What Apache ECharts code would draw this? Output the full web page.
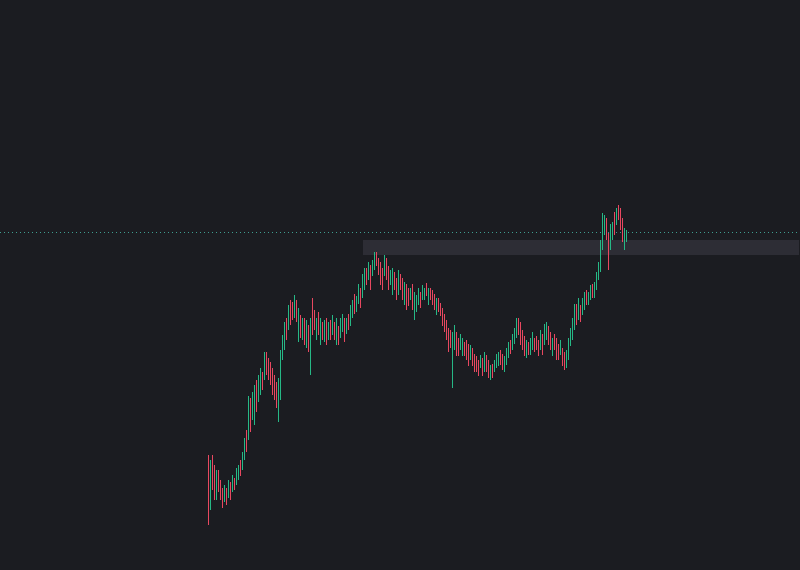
<!DOCTYPE html>
<html>
<head>
<meta charset="utf-8">
<script src="https://cdn.jsdelivr.net/npm/echarts@6/dist/echarts.min.js"></script>
<style>
html,body{margin:0;padding:0;background:#1b1c21;}
#chart{width:800px;height:570px;}
</style>
</head>
<body>
<div id="chart"></div>
<script>
// Candles: [open, close, low, high]
const candles = [
[105,58,45,115],[68,102,60,110],[110,88,80,115],[100,78,70,105],[76,95,70,100],
[96,82,78,100],[88,74,70,90],[80,66,62,82],[70,82,68,85],[80,68,65,82],
[75,87,72,90],[86,74,70,88],[80,92,78,95],[90,83,80,92],[87,99,85,102],
[92,103,90,105],[108,97,94,110],[102,115,100,118],[113,128,110,132],[136,122,118,140],
[135,168,130,174],[168,145,138,172],[154,174,150,178],[155,180,145,185],[186,164,158,190],
[172,190,168,195],[180,198,175,202],[196,184,180,198],[194,214,190,218],[215,200,195,218],
[210,194,190,212],[205,190,185,208],[198,180,175,202],[192,174,170,195],[185,166,162,188],
[168,188,148,192],[180,215,170,220],[214,230,210,235],[225,244,220,248],[250,235,230,252],
[244,260,240,265],[266,250,245,270],[265,254,250,268],[256,270,252,275],[266,252,248,270],
[234,256,228,262],[252,236,232,255],[234,248,230,252],[248,230,225,252],[228,246,222,250],
[242,224,218,245],[228,246,195,252],[266,242,235,272],[258,244,240,260],[236,248,230,252],
[255,240,235,258],[232,248,225,252],[246,234,230,248],[234,246,228,250],[248,230,225,252],
[234,245,230,248],[247,234,230,250],[238,252,235,255],[245,234,230,248],[230,248,225,252],
[240,228,225,244],[236,249,232,252],[241,253,238,256],[249,232,228,252],[239,250,236,252],
[253,243,240,256],[247,262,244,265],[255,267,252,270],[273,259,256,276],[261,271,258,274],
[269,283,266,286],[279,265,262,282],[276,292,272,296],[283,299,280,302],[299,288,285,302],
[293,305,290,308],[302,284,280,305],[296,307,294,310],[303,315,300,318],[315,306,304,318],
[310,298,295,312],[305,289,285,308],[299,284,280,302],[296,311,294,315],[309,293,290,312],
[301,284,280,304],[287,297,285,300],[280,298,275,302],[296,283,280,298],[290,273,270,292],
[278,296,275,300],[294,283,280,296],[289,273,270,292],[268,285,265,288],[283,264,260,286],
[280,267,264,282],[271,280,270,282],[283,264,260,286],[254,274,250,278],[261,272,258,275],
[268,279,265,282],[276,265,262,278],[272,282,270,285],[272,280,270,282],[285,276,274,287],
[268,279,265,282],[280,272,270,282],[278,267,265,280],[274,263,260,276],[258,269,255,272],
[270,260,258,272],[265,256,254,267],[260,247,244,262],[254,241,238,256],[247,233,230,250],
[239,221,218,242],[238,225,222,240],[222,235,182,238],[224,242,220,245],[235,217,214,238],
[230,217,214,232],[222,233,220,236],[217,229,214,232],[226,217,214,228],[227,213,210,230],
[223,207,204,226],[212,222,210,225],[219,207,204,222],[213,201,198,216],[212,200,198,214],
[208,197,194,210],[204,213,202,215],[210,197,194,212],[200,215,198,218],[213,200,198,215],
[207,195,192,210],[192,203,190,205],[204,194,192,206],[200,208,198,210],[204,213,202,216],
[206,216,204,218],[218,207,205,220],[214,202,200,216],[200,211,198,214],[207,219,205,222],
[214,226,212,228],[228,218,216,230],[222,234,220,236],[228,239,226,242],[234,249,232,252],
[250,238,235,252],[245,228,225,248],[237,223,220,240],[231,217,214,234],[214,227,212,230],
[226,217,215,228],[217,229,215,232],[222,235,220,238],[230,220,218,232],[232,222,220,234],
[228,216,214,230],[222,237,220,240],[233,218,215,236],[228,243,225,246],[232,245,230,248],
[241,228,225,244],[235,223,220,238],[216,229,214,232],[233,223,220,236],[229,213,210,232],
[224,213,210,226],[217,227,215,230],[219,207,204,222],[215,204,200,218],[205,217,202,220],
[213,229,210,232],[227,239,224,242],[233,249,230,252],[244,262,240,266],[262,249,245,266],
[253,268,250,272],[262,251,248,265],[257,269,255,272],[262,275,260,278],[277,268,265,280],
[267,276,265,278],[272,282,270,285],[284,274,272,286],[274,285,272,288],[282,295,280,298],
[292,305,290,308],[302,326,298,330],[324,352,320,357],[337,352,335,355],[349,334,330,352],
[335,318,300,338],[324,342,320,346],[332,345,330,348],[355,338,335,358],[347,359,345,362],
[362,352,350,365],[359,343,340,362],[349,331,328,352],[323,338,320,342],[330,337,328,340]
];
const categories = candles.map((_, i) => 'D' + (i + 1));
const emptyBefore = 104;   // empty slots left of the first candle
const emptyAfter = 86;     // empty slots right of the last candle
const resistanceLine = 338;
const zoneTop = 330;
const zoneBottom = 315;
const zoneStartIndex = 181;

const xData = [];
const sData = [];
for (let i = 0; i < emptyBefore; i++) { xData.push('L' + i); sData.push('-'); }
categories.forEach((c, i) => { xData.push(c); sData.push(candles[i]); });
for (let i = 0; i < emptyAfter; i++) { xData.push('R' + i); sData.push('-'); }

const chart = echarts.init(document.getElementById('chart'), null, {renderer: 'canvas'});
chart.setOption({
  backgroundColor: '#1b1c21',
  animation: false,
  grid: {left: 0, right: 0, top: 0, bottom: 0},
  xAxis: {
    type: 'category', data: xData, show: false, boundaryGap: true,
    axisLine: {show: false}, axisTick: {show: false}, axisLabel: {show: false}, splitLine: {show: false}
  },
  yAxis: {
    type: 'value', min: 0, max: 570, show: false, splitLine: {show: false}
  },
  series: [{
    type: 'candlestick',
    data: sData,
    barWidth: 0.4,
    itemStyle: {
      color: '#26b886', color0: '#e84860',
      borderColor: '#26b886', borderColor0: '#e84860', borderWidth: 1
    },
    markLine: {
      silent: true, symbol: ['none', 'none'], label: {show: false},
      lineStyle: {color: '#3f9d90', type: [1, 3], width: 1},
      data: [{yAxis: resistanceLine}]
    },
    markArea: {
      silent: true,
      itemStyle: {color: '#2d2d35'},
      label: {show: false},
      data: [[{xAxis: zoneStartIndex, yAxis: zoneTop}, {xAxis: xData.length - 1, yAxis: zoneBottom}]]
    }
  }]
});
</script>
</body>
</html>
